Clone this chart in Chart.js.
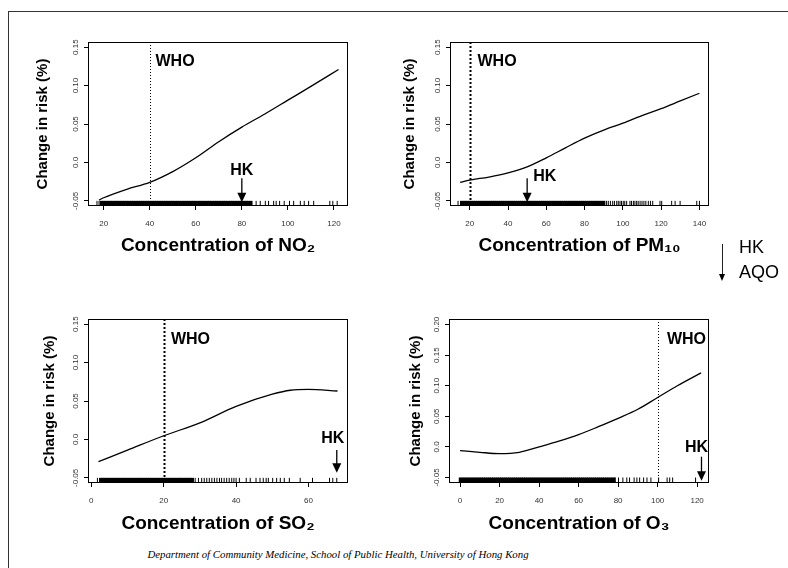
<!DOCTYPE html>
<html><head><meta charset="utf-8">
<script src="https://cdn.jsdelivr.net/npm/chart.js@4.4.1/dist/chart.umd.min.js"></script>
<style>
html,body{margin:0;padding:0;background:#fff;width:788px;height:568px;overflow:hidden;}
#stage{position:relative;width:788px;height:568px;font-family:"Liberation Sans",Arial,sans-serif;}
canvas{position:absolute;}
.frame{position:absolute;left:8px;top:11px;width:820px;height:620px;border-left:1px solid #333;border-top:1px solid #333;}
.lg{position:absolute;left:739px;font-size:18px;line-height:25px;color:#000;}
#arrowShaft{position:absolute;left:722px;top:244px;width:1px;height:31px;background:#222;}
#arrowHead{position:absolute;left:719px;top:274px;width:0;height:0;border-left:3.5px solid transparent;border-right:3.5px solid transparent;border-top:7px solid #000;}
#footer{position:absolute;left:0;top:548px;width:676px;text-align:center;font-family:"Liberation Serif","Times New Roman",serif;font-style:italic;font-size:10.8px;line-height:12px;color:#000;}
</style></head>
<body><div id="stage">
<div class="frame"></div>
<canvas id="c1" width="400" height="250" style="left:0px;top:20px"></canvas>
<canvas id="c2" width="388" height="250" style="left:400px;top:20px"></canvas>
<canvas id="c3" width="400" height="250" style="left:0px;top:290px"></canvas>
<canvas id="c4" width="388" height="250" style="left:400px;top:290px"></canvas>
<div id="arrowShaft"></div><div id="arrowHead"></div>
<div class="lg" style="top:234.7px">HK</div>
<div class="lg" style="top:259.7px">AQO</div>
<div id="footer">Department of Community Medicine, School of Public Health, University of Hong Kong</div>
</div>
<script>
// ---------- DATA ----------
const yTickValues = [-0.05, 0, 0.05, 0.10, 0.15];
const yTickLabels = ['-0.05', '0.0', '0.05', '0.10', '0.15'];
const yTickValuesO3 = [-0.05, 0, 0.05, 0.10, 0.15, 0.20];
const yTickLabelsO3 = ['-0.05', '0.0', '0.05', '0.10', '0.15', '0.20'];

const no2TickValues = [20, 40, 60, 80, 100, 120];
const pm10TickValues = [20, 40, 60, 80, 100, 120, 140];
const so2TickValues = [0, 20, 40, 60];
const o3TickValues = [0, 20, 40, 60, 80, 100, 120];

const no2X = [18, 20, 30, 40, 50, 60, 70, 80, 90, 100, 110, 122];
const no2Y = [-0.049, -0.046, -0.035, -0.026, -0.012, 0.006, 0.027, 0.046, 0.063, 0.081, 0.099, 0.121];
const pm10X = [15, 20, 30, 40, 50, 60, 70, 80, 90, 100, 110, 120, 130, 140];
const pm10Y = [-0.026, -0.023, -0.019, -0.0136, -0.0057, 0.006, 0.019, 0.0316, 0.042, 0.051, 0.061, 0.070, 0.080, 0.090];
const so2X = [2, 10, 20, 30, 40, 50, 55, 60, 68];
const so2Y = [-0.029, -0.014, 0.0048, 0.0215, 0.043, 0.0588, 0.064, 0.065, 0.063];
const o3X = [0, 10, 20, 30, 40, 50, 60, 70, 80, 90, 100, 110, 122];
const o3Y = [-0.006, -0.0088, -0.011, -0.0088, 0.0, 0.0093, 0.020, 0.033, 0.0467, 0.0615, 0.0808, 0.100, 0.121];

const no2RugDense = [19,20,21,22,23,24,25,26,27,28,29,30,31,32,33,34,35,36,37,38,39,40,41,42,43,44,45,46,47,48,49,50,51,52,53,54,55,56,57,58,59,60,61,62,63,64,65,66,67,68,69,70,71,72,73,74,75,76,77,78,79,80,81,82,83,84];
const no2RugSparse = [17.1, 18, 86.2, 88, 90.2, 91.6, 93.8, 94.9, 96.4, 98.4, 100.7, 102.5, 105.4, 107.1, 109, 111.2, 118.2, 119.5, 121.4];
const pm10RugDense = [16,17,18,19,20,21,22,23,24,25,26,27,28,29,30,31,32,33,34,35,36,37,38,39,40,41,42,43,44,45,46,47,48,49,50,51,52,53,54,55,56,57,58,59,60,61,62,63,64,65,66,67,68,69,70,71,72,73,74,75,76,77,78,79,80,81,82,83,84,85,86,87,88,89,90];
const pm10RugSparse = [13.9, 15.2, 90.6, 91.5, 92.4, 93.5, 94.7, 95.6, 96.8, 97.6, 98.5, 99.3, 100.2, 101, 102, 103.7, 104.5, 105.5, 106.3, 107.2, 108, 109, 110, 111, 112, 113.3, 114.4, 115.6, 119.4, 120.3, 125.5, 127.3, 129.9, 138.6, 140];
const so2RugDense = [2.5,3,3.5,4,4.5,5,5.5,6,6.5,7,7.5,8,8.5,9,9.5,10,10.5,11,11.5,12,12.5,13,13.5,14,14.5,15,15.5,16,16.5,17,17.5,18,18.5,19,19.5,20,20.5,21,21.5,22,22.5,23,23.5,24,24.5,25,25.5,26,26.5,27,27.5,28];
const so2RugSparse = [1.7, 28.7, 29.6, 30.5, 31.2, 31.9, 32.6, 33.3, 34, 34.7, 35.4, 36, 36.7, 37.4, 38.1, 38.8, 39.4, 40, 40.9, 42.8, 43.9, 45.5, 46.6, 47.5, 48.3, 48.9, 50.1, 51.2, 52.2, 53.3, 54.7, 57.7, 61.1, 65.8, 66.7, 67.8];
const o3RugDense = [0,1,2,3,4,5,6,7,8,9,10,11,12,13,14,15,16,17,18,19,20,21,22,23,24,25,26,27,28,29,30,31,32,33,34,35,36,37,38,39,40,41,42,43,44,45,46,47,48,49,50,51,52,53,54,55,56,57,58,59,60,61,62,63,64,65,66,67,68,69,70,71,72,73,74,75,76,77,78];
const o3RugSparse = [78.5, 80.2, 82.4, 84.4, 85.8, 88.1, 89.5, 90.9, 92.9, 94.6, 96.6, 100.5, 104.8, 106.1, 107.6, 119.2];

const whoGuideline = [40, 20, 20, 100];   // NO2, PM10, SO2, O3
const hkLevel = [80, 50, 67.8, 122.2];    // NO2, PM10, SO2, O3
const xTitles = ['Concentration of NO\u2082', 'Concentration of PM\u2081\u2080', 'Concentration of SO\u2082', 'Concentration of O\u2083'];
const yTitle = 'Change in risk (%)';

// ---------- RENDER ----------
Chart.defaults.font.family = '"Liberation Sans", Arial, sans-serif';
const FONT = '"Liberation Sans", Arial, sans-serif';

function makePanel(id, p) {
  const rugY = (p.yMin + p.yTicks[0]) / 2;
  const rugR = (c) => {
    const ys = c.chart.scales.y;
    return Math.abs(ys.getPixelForValue(p.yMin) - ys.getPixelForValue(p.yTicks[0])) / 2;
  };
  const annot = {
    id: 'annot' + id,
    afterDatasetsDraw(chart) {
      const ctx = chart.ctx; const a = chart.chartArea; const xs = chart.scales.x;
      ctx.save();
      ctx.strokeStyle = '#000'; ctx.lineWidth = 1; ctx.setLineDash([]);
      ctx.strokeRect(a.left + 0.5, a.top + 0.5, a.right - a.left - 1, a.bottom - a.top - 1);
      const xw = Math.round(xs.getPixelForValue(p.who)) + 0.5;
      ctx.setLineDash(p.whoDash); ctx.lineWidth = p.whoW;
      ctx.beginPath(); ctx.moveTo(xw, a.top); ctx.lineTo(xw, a.bottom); ctx.stroke();
      ctx.setLineDash([]);
      ctx.fillStyle = '#000'; ctx.font = 'bold 16px ' + FONT; ctx.textBaseline = 'middle';
      if (p.whoAlign === 'right') { ctx.textAlign = 'right'; ctx.fillText('WHO', a.right - p.whoDx, a.top + p.whoDy); }
      else { ctx.textAlign = 'left'; ctx.fillText('WHO', xw + p.whoDx, a.top + p.whoDy); }
      const xa = xs.getPixelForValue(p.hk);
      const tip = a.bottom - p.arrowTip, start = a.bottom - p.arrowTop;
      ctx.lineWidth = 1.3;
      ctx.beginPath(); ctx.moveTo(xa, start); ctx.lineTo(xa, tip - 8); ctx.stroke();
      ctx.beginPath(); ctx.moveTo(xa - 4.5, tip - 9.5); ctx.lineTo(xa + 4.5, tip - 9.5); ctx.lineTo(xa, tip); ctx.closePath(); ctx.fill();
      ctx.textAlign = p.hkAlign;
      ctx.fillText('HK', xa + p.hkDx, a.bottom - p.hkDy);
      ctx.restore();
    }
  };
  return new Chart(document.getElementById(id), {
    type: 'scatter',
    data: { datasets: [
      { data: p.cx.map((v, i) => ({x: v, y: p.cy[i]})), showLine: true, borderColor: '#000', borderWidth: 1.3,
        pointRadius: 0, cubicInterpolationMode: 'monotone', fill: false },
      { data: p.rugD.map(v => ({x: v, y: rugY})), pointStyle: 'line', pointRotation: 90, pointRadius: rugR,
        pointBorderColor: '#000', pointBackgroundColor: '#000', pointBorderWidth: p.denseW },
      { data: p.rugS.map(v => ({x: v, y: rugY})), pointStyle: 'line', pointRotation: 90, pointRadius: rugR,
        pointBorderColor: '#000', pointBackgroundColor: '#000', pointBorderWidth: 1 }
    ]},
    options: {
      responsive: false, animation: false, devicePixelRatio: 1,
      layout: { padding: { left: 0, bottom: 0, top: p.padTop, right: p.padRight } },
      plugins: { legend: { display: false }, tooltip: { enabled: false } },
      scales: {
        x: {
          type: 'linear', position: 'bottom', min: p.xMin, max: p.xMax,
          afterBuildTicks: s => { s.ticks = p.xTicks.map(v => ({value: v})); },
          afterFit: s => { s.height = p.xAxisH; },
          grid: { display: true, drawOnChartArea: false, drawTicks: true, tickLength: 4, color: '#000', lineWidth: 1 },
          border: { display: false },
          ticks: { font: { size: 8 }, color: '#333', padding: 9, minRotation: 0, maxRotation: 0, autoSkip: false,
                   callback: (v, i) => String(p.xTicks[i]) },
          title: { display: true, text: p.xTitle, color: '#000', font: { size: 19, weight: 'bold' },
                   padding: { top: 0, bottom: p.xTitlePad } }
        },
        y: {
          type: 'linear', position: 'left', min: p.yMin, max: p.yMax,
          afterBuildTicks: s => { s.ticks = p.yTicks.map(v => ({value: v})); },
          afterFit: s => { s.width = p.yAxisW; },
          grid: { display: true, drawOnChartArea: false, drawTicks: true, tickLength: 4, color: '#000', lineWidth: 1 },
          border: { display: false },
          ticks: { font: { size: 8 }, color: '#333', padding: -1, minRotation: 90, maxRotation: 90, crossAlign: 'center',
                   autoSkip: false, callback: (v, i) => p.yLabels[i] },
          title: { display: true, text: yTitle, color: '#000', font: { size: 15, weight: 'bold' },
                   padding: { top: p.yTitlePad, bottom: 0 } }
        }
      }
    },
    plugins: [annot]
  });
}

makePanel('c1', { cx: no2X, cy: no2Y, rugD: no2RugDense, rugS: no2RugSparse, xTicks: no2TickValues, denseW: 3,
  yTicks: yTickValues, yLabels: yTickLabels, xMin: 13.2, xMax: 126.1, yMin: -0.0567, yMax: 0.1567,
  padTop: 22, padRight: 52, yAxisW: 88, xAxisH: 64, xTitle: xTitles[0], xTitlePad: 12.6, yTitlePad: 34,
  who: whoGuideline[0], whoDash: [1, 2], whoW: 1, whoAlign: 'left', whoDx: 5, whoDy: 19.7,
  hk: hkLevel[0], arrowTip: 3.7, arrowTop: 27.7, hkAlign: 'center', hkDx: 0, hkDy: 35.7 });
makePanel('c2', { cx: pm10X, cy: pm10Y, rugD: pm10RugDense, rugS: pm10RugSparse, xTicks: pm10TickValues, denseW: 2.6,
  yTicks: yTickValues, yLabels: yTickLabels, xMin: 9.7, xMax: 145, yMin: -0.0567, yMax: 0.1567,
  padTop: 22, padRight: 79, yAxisW: 50, xAxisH: 64, xTitle: xTitles[1], xTitlePad: 12.6, yTitlePad: 1,
  who: whoGuideline[1], whoDash: [2, 2], whoW: 2, whoAlign: 'left', whoDx: 7, whoDy: 19.7,
  hk: hkLevel[1], arrowTip: 3.7, arrowTop: 27.7, hkAlign: 'left', hkDx: 6, hkDy: 29 });
makePanel('c3', { cx: so2X, cy: so2Y, rugD: so2RugDense, rugS: so2RugSparse, xTicks: so2TickValues, denseW: 2.6,
  yTicks: yTickValues, yLabels: yTickLabels, xMin: -0.9, xMax: 70.9, yMin: -0.0567, yMax: 0.1567,
  padTop: 29, padRight: 52, yAxisW: 88, xAxisH: 57, xTitle: xTitles[2], xTitlePad: 4.6, yTitlePad: 41,
  who: whoGuideline[2], whoDash: [2, 2], whoW: 2, whoAlign: 'left', whoDx: 6.4, whoDy: 21,
  hk: hkLevel[2], arrowTip: 10.3, arrowTop: 33, hkAlign: 'center', hkDx: -4, hkDy: 44.2 });
makePanel('c4', { cx: o3X, cy: o3Y, rugD: o3RugDense, rugS: o3RugSparse, xTicks: o3TickValues, denseW: 2.6,
  yTicks: yTickValuesO3, yLabels: yTickLabelsO3, xMin: -5.6, xMax: 126, yMin: -0.059, yMax: 0.209,
  padTop: 29, padRight: 79, yAxisW: 49, xAxisH: 57, xTitle: xTitles[3], xTitlePad: 4.6, yTitlePad: 6.8,
  who: whoGuideline[3], whoDash: [1, 2], whoW: 1, whoAlign: 'right', whoDx: 3, whoDy: 21,
  hk: hkLevel[3], arrowTip: 2.3, arrowTop: 26.3, hkAlign: 'center', hkDx: -5, hkDy: 35.5 });
</script>
</body></html>
